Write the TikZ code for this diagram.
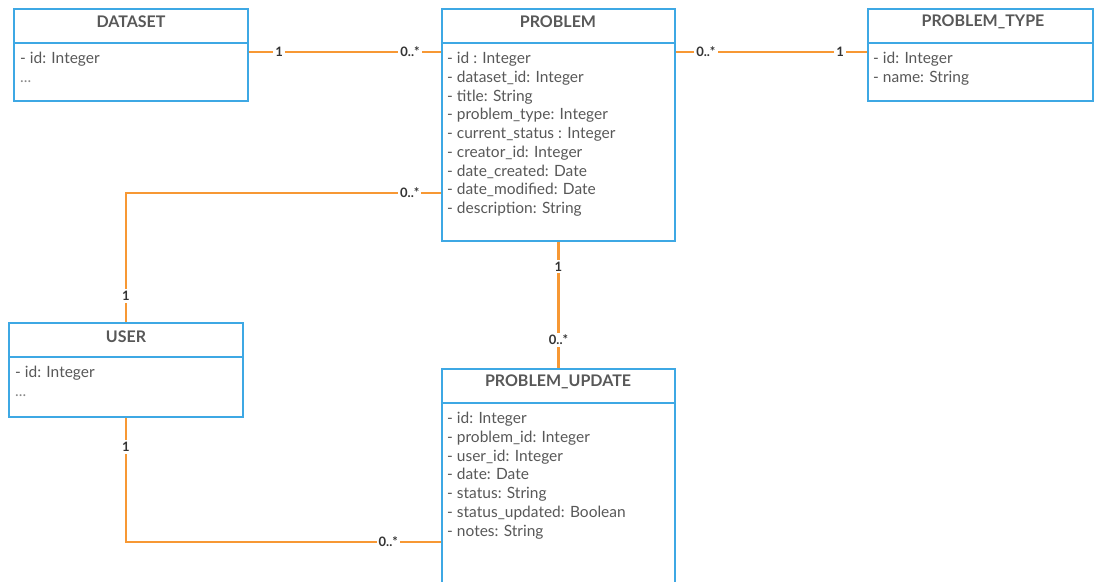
\documentclass[tikz,border=0pt]{standalone}
\usepackage{fontspec}
\setmainfont{Lato}
\definecolor{cblue}{RGB}{62,168,228}
\definecolor{corange}{RGB}{247,152,52}
\definecolor{ctext}{RGB}{88,88,88}
\begin{document}
\begin{tikzpicture}[x=1pt,y=-1pt,
  cls/.style={anchor=north west,inner sep=0pt,outer sep=0pt},
  border/.style={draw=cblue,line width=2.4pt},
  title/.style={font=\fontsize{16}{19}\selectfont\bfseries,text=ctext,inner sep=0pt},
  attr/.style={anchor=north west,align=left,font=\fontsize{15.5}{18.75}\selectfont,text=ctext,inner sep=0pt},
  conn/.style={draw=corange,line width=2.4pt},
  mult/.style={fill=white,font=\fontsize{13}{15}\selectfont\bfseries,text=black!80,inner sep=2pt}]
\clip (0,0) rectangle (1094,581);
\fill[white] (0,0) rectangle (1094,581);

% classes
\node[cls,minimum width=234pt,minimum height=92pt] (dataset) at (14,9) {};
\node[title] (datasetT) at (131,22) {DATASET};
\node[attr] (datasetA) at (20,52) {- id: Integer\\\textcolor{ctext!70}{...}};

\node[cls,minimum width=233pt,minimum height=232pt] (problem) at (442,9) {};
\node[title] (problemT) at (558,22) {PROBLEM};
\node[attr] (problemA) at (447,52) {- id : Integer\\- dataset\_id: Integer\\- title: String\\- problem\_type: Integer\\- current\_status : Integer\\- creator\_id: Integer\\- date\_created: Date\\- date\_modified: Date\\- description: String};

\node[cls,minimum width=225pt,minimum height=92pt] (ptype) at (868,9) {};
\node[title] (ptypeT) at (983,22) {PROBLEM\_TYPE};
\node[attr] (ptypeA) at (873,52) {- id: Integer\\- name: String};

\node[cls,minimum width=234pt,minimum height=94pt] (user) at (9,323) {};
\node[title] (userT) at (126,337) {USER};
\node[attr] (userA) at (15,366) {- id: Integer\\\textcolor{ctext!70}{...}};

\node[cls,minimum width=233pt,minimum height=232pt] (update) at (442,369) {};
\node[title] (updateT) at (558,382) {PROBLEM\_UPDATE};
\node[attr] (updateA) at (447,412) {- id: Integer\\- problem\_id: Integer\\- user\_id: Integer\\- date: Date\\- status: String\\- status\_updated: Boolean\\- notes: String};

% connectors
\draw[conn] ([yshift=-43pt]dataset.north east) -- node[mult,pos=0.16]{1} node[mult,pos=0.835]{0..*} ([yshift=-43pt]problem.north west);
\draw[conn] ([yshift=-43pt]problem.north east) -- node[mult,pos=0.16]{0..*} node[mult,pos=0.855]{1} ([yshift=-43pt]ptype.north west);
\draw[conn] (user.north) |- node[mult,pos=0.104]{1} node[mult,pos=0.949]{0..*} ([yshift=-184pt]problem.north west);
\draw[conn] (problem.south) -- node[mult,pos=0.2]{1} node[mult,pos=0.77]{0..*} (update.north);
\draw[conn] (user.south) |- node[mult,pos=0.12]{1} node[mult,pos=0.915]{0..*} ([yshift=-173pt]update.north west);

% class borders and header separators
\foreach \n in {dataset,problem,ptype,user,update}{
  \draw[border] (\n.north west) rectangle (\n.south east);
  \draw[border] ([yshift=-34pt]\n.north west) -- ([yshift=-34pt]\n.north east);
}
\end{tikzpicture}
\end{document}
